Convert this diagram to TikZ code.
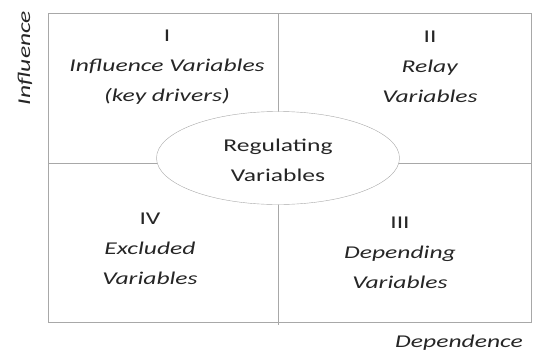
\documentclass[tikz,border=0pt]{standalone}
\usepackage{fontspec}
\setmainfont{Carlito}[FakeStretch=1.42]
\usepackage{tikz}
\usetikzlibrary{shapes.geometric,positioning,calc}
\definecolor{mylinegray}{RGB}{168,168,168}
\definecolor{mytextgray}{RGB}{38,38,38}
\tikzset{
    quadtext/.style={
        align=center, text=mytextgray, inner sep=0pt,
        font=\fontsize{18}{30}\selectfont
    }
}
\begin{document}
\begin{tikzpicture}[
      x=1pt, y=-1pt,
  frame/.style={draw=mylinegray, line width=1pt},
  regul/.style={
    draw=mylinegray, fill=white, ellipse,
    minimum width=243pt, minimum height=93pt,
    inner sep=0pt
    },
  axislabel/.style={
    quadtext, font=\fontsize{18}{30}\selectfont\itshape
    }
      ]
\useasboundingbox (0,0) rectangle (534,356);

% frame and dividers
\coordinate (nw) at (48,13);
\coordinate (se) at (531,322);
\coordinate (topmid) at (278,13);
\coordinate (botmid) at (278,325);
\coordinate (leftmid) at (48,163);
\coordinate (rightmid) at (531,163);
\draw[frame] (nw) rectangle (se);
\draw[frame] (topmid) -- (botmid);
\draw[frame] (leftmid) -- (rightmid);

\node[regul] (reg) at (278,158) {};
\node[quadtext] (regtxt) at ($(reg.center)+(0,2)$) {Regulating\\Variables};

% quadrants
\node[quadtext] (q1) at (167,67) {I\\\textit{Influence Variables}\\\textit{(key drivers)}};
\node[quadtext] (q2) at (430,67) {II\\\textit{Relay}\\\textit{Variables}};
\node[quadtext] (q3) at (400,253) {III\\\textit{Depending}\\\textit{Variables}};
\node[quadtext] (q4) at (150,249) {IV\\\textit{Excluded}\\\textit{Variables}};

% axes
\node[axislabel, rotate=90] (infl) at (25,58) {Influence};
\node[axislabel] (dep) at (459,343) {Dependence};

\end{tikzpicture}
\end{document}
